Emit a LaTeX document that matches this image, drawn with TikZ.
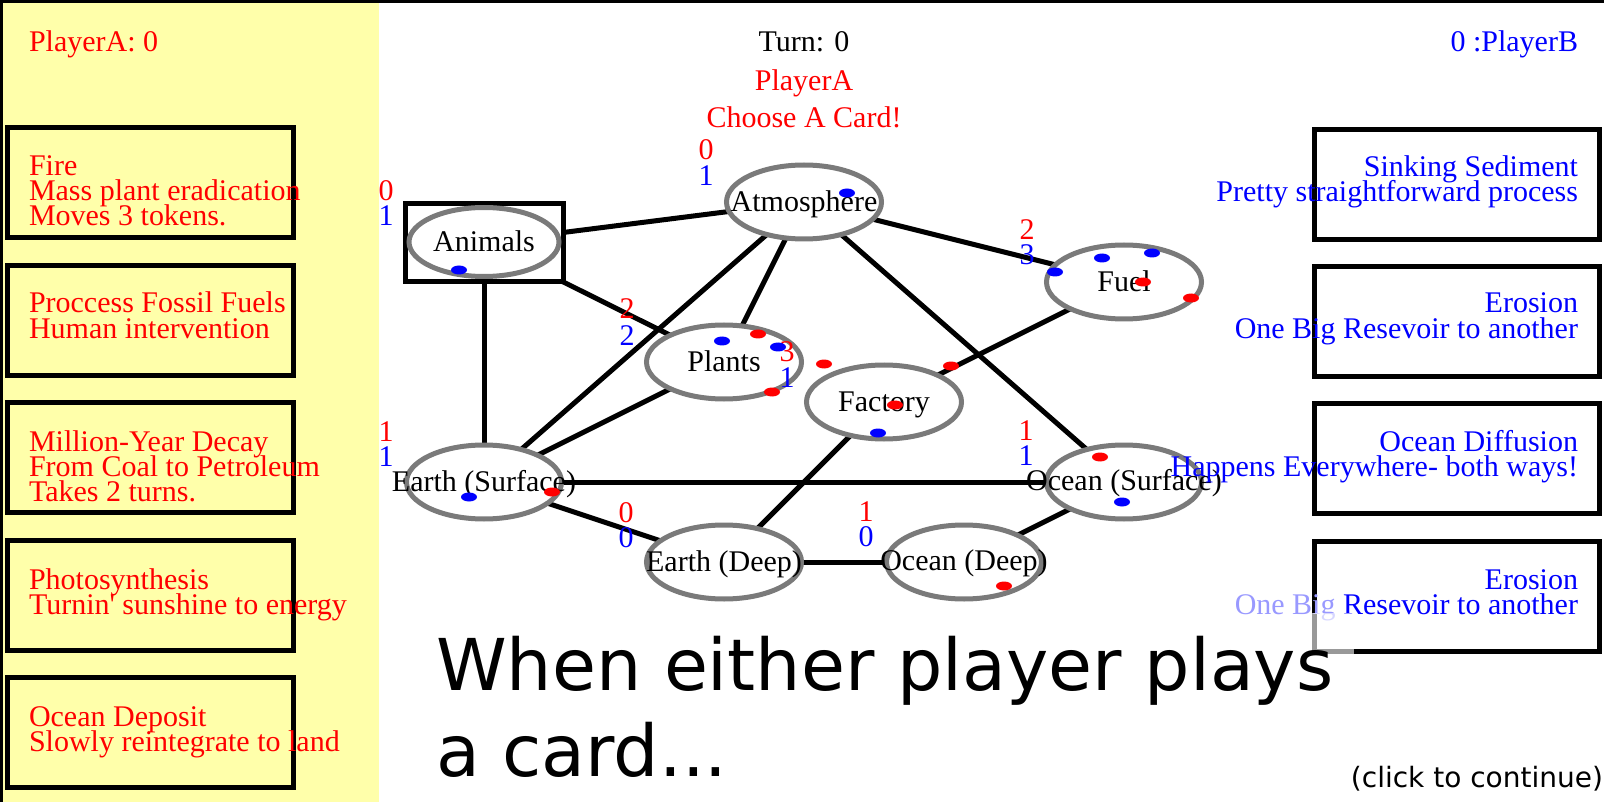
\documentclass[tikz,border=0pt]{standalone}
\usepackage{fontspec}
\setmainfont{Liberation Serif}
\newfontfamily\vsans{DejaVu Sans}
\usetikzlibrary{shapes.geometric}
\pgfdeclarelayer{bg}
\pgfsetlayers{bg,main}
\definecolor{panel}{RGB}{255,255,170}
\definecolor{pred}{RGB}{255,0,0}
\definecolor{pblue}{RGB}{0,0,255}
\definecolor{rim}{RGB}{122,122,122}
\newcommand\linesL[1]{\vtop{\baselineskip=25pt\lineskiplimit=-1000pt\halign{##\hfil\cr#1\crcr}}}
\newcommand\linesR[1]{\vtop{\baselineskip=25pt\lineskiplimit=-1000pt\halign{\hfil##\cr#1\crcr}}}
\begin{document}
\begin{tikzpicture}[x=1pt,y=-1pt,
  every node/.style={inner sep=0pt, outer sep=0pt},
  tx/.style={font=\fontsize{30}{25}\selectfont},
  station/.style={ellipse, draw=rim, line width=5pt, fill=white, minimum width=155pt, minimum height=74pt},
  flow/.style={line width=5pt, black},
  cardbox/.style={draw=black, line width=5pt},
  lcard/.style={cardbox, minimum width=286pt, minimum height=110pt},
  rcard/.style={cardbox, minimum width=285pt, minimum height=110pt},
  ltext/.style={tx, text=pred, anchor=base west},
  rtext/.style={tx, text=pblue, anchor=base east},
  ntext/.style={tx, text=black, anchor=base},
  sr/.style={tx, text=pred, anchor=base},
  sb/.style={tx, text=pblue, anchor=base},
  rdot/.style={fill=pred},
  bdot/.style={fill=pblue}
]
\useasboundingbox (0,0) rectangle (1604,802);

% cards on the left
\node[lcard] (lc1) at (150.5,182.5) {};
\node[lcard] (lc2) at (150.5,320.5) {};
\node[lcard] (lc3) at (150.5,457.5) {};
\node[lcard] (lc4) at (150.5,595.5) {};
\node[lcard] (lc5) at (150.5,732.5) {};
% cards on the right
\node[rcard] (rc1) at (1457,184.5) {};
\node[rcard] (rc2) at (1457,321.5) {};
\node[rcard] (rc3) at (1457,458.5) {};
\node[rcard] (rc4) at (1457,596.5) {};

% graph nodes
\node[draw=black, line width=5pt, fill=white, minimum width=158pt, minimum height=78pt] (abox) at (484,242.5) {};
\node[station, minimum width=150pt, minimum height=69pt] (animals) at (484,242) {};
\node[station] (atmos) at (804,202) {};
\node[station] (fuel) at (1124,282) {};
\node[station] (plants) at (724,362) {};
\node[station] (factory) at (884,402) {};
\node[station] (earths) at (484,482) {};
\node[station] (oceans) at (1124,482) {};
\node[station] (earthd) at (724,562) {};
\node[station] (oceand) at (964,562) {};

\begin{pgfonlayer}{bg}
  \fill[white] (0,0) rectangle (1604,802);
  \fill[panel] (0,0) rectangle (379,802);
  \draw[flow] (abox.center) -- (atmos.center);
  \draw[flow] (abox.center) -- (plants.center);
  \draw[flow] (abox.center) -- (earths.center);
  \draw[flow] (atmos.center) -- (fuel.center);
  \draw[flow] (atmos.center) -- (plants.center);
  \draw[flow] (atmos.center) -- (earths.center);
  \draw[flow] (atmos.center) -- (oceans.center);
  \draw[flow] (plants.center) -- (earths.center);
  \draw[flow] (fuel.center) -- (factory.center);
  \draw[flow] (factory.center) -- (earthd.center);
  \draw[flow] (earths.center) -- (oceans.center);
  \draw[flow] (earths.center) -- (earthd.center);
  \draw[flow] (earthd.center) -- (oceand.center);
  \draw[flow] (oceand.center) -- (oceans.center);
\end{pgfonlayer}

% border lines
\draw[line width=3pt] (0,1.5) -- (1604,1.5);
\draw[line width=3pt] (1.5,0) -- (1.5,802);

% node names
\node[ntext] (tAnimals) at (484,251.5) {Animals};
\node[ntext] (tAtmos) at (804,211.5) {Atmosphere};
\node[ntext] (tFuel) at (1124,291.5) {Fuel};
\node[ntext] (tPlants) at (724,371.5) {Plants};
\node[ntext] (tFactory) at (884,411.5) {Factory};
\node[ntext] (tEarthS) at (484,491.5) {Earth (Surface)};
\node[ntext] (tOceanS) at (1124,490.5) {Ocean (Surface)};
\node[ntext] (tEarthD) at (724,571) {Earth (Deep)};
\node[ntext] (tOceanD) at (964,570.5) {Ocean (Deep)};

% scores
\node[sr] (sAr) at (386,201) {0};   \node[sb] (sAb) at (386,226) {1};
\node[sr] (sTr) at (706,160) {0};   \node[sb] (sTb) at (706,186) {1};
\node[sr] (sPr) at (627,319) {2};   \node[sb] (sPb) at (627,345) {2};
\node[sr] (sFr) at (787,362) {3};   \node[sb] (sFb) at (787,387) {1};
\node[sr] (sUr) at (1027,240) {2};  \node[sb] (sUb) at (1027,265) {3};
\node[sr] (sEr) at (386,441) {1};   \node[sb] (sEb) at (386,466) {1};
\node[sr] (sOr) at (1026,440) {1};  \node[sb] (sOb) at (1026,465) {1};
\node[sr] (sDr) at (626,522) {0};   \node[sb] (sDb) at (626,547) {0};
\node[sr] (sQr) at (866,521) {1};   \node[sb] (sQb) at (866,546) {0};

% tokens
\fill[bdot] (459,270) ellipse [x radius=8pt, y radius=4.5pt];
\fill[bdot] (847,193) ellipse [x radius=8pt, y radius=4.5pt];
\fill[bdot] (722,341) ellipse [x radius=8pt, y radius=4.5pt];
\fill[rdot] (758,334) ellipse [x radius=8pt, y radius=4.5pt];
\fill[bdot] (778,347) ellipse [x radius=8pt, y radius=4.5pt];
\fill[rdot] (772,392) ellipse [x radius=8pt, y radius=4.5pt];
\fill[rdot] (824,364) ellipse [x radius=8pt, y radius=4.5pt];
\fill[rdot] (951,366) ellipse [x radius=8pt, y radius=4.5pt];
\fill[rdot] (895,405) ellipse [x radius=8pt, y radius=4.5pt];
\fill[bdot] (878,433) ellipse [x radius=8pt, y radius=4.5pt];
\fill[bdot] (1055,272) ellipse [x radius=8pt, y radius=4.5pt];
\fill[bdot] (1102,258) ellipse [x radius=8pt, y radius=4.5pt];
\fill[bdot] (1152,253) ellipse [x radius=8pt, y radius=4.5pt];
\fill[rdot] (1143,282) ellipse [x radius=8pt, y radius=4.5pt];
\fill[rdot] (1191,298) ellipse [x radius=8pt, y radius=4.5pt];
\fill[bdot] (469,497) ellipse [x radius=8pt, y radius=4.5pt];
\fill[rdot] (552,492) ellipse [x radius=8pt, y radius=4.5pt];
\fill[rdot] (1100,457) ellipse [x radius=8pt, y radius=4.5pt];
\fill[bdot] (1122,502) ellipse [x radius=8pt, y radius=4.5pt];
\fill[rdot] (1004,586) ellipse [x radius=8pt, y radius=4.5pt];

% header texts
\node[ltext] (scoreA) at (29,52) {PlayerA: 0};
\node[ntext] (turn) at (804,52) {Turn: 0};
\node[sr] (who) at (804,91) {PlayerA};
\node[sr] (choose) at (804,128) {Choose A Card!};
\node[rtext] (scoreB) at (1578,52) {0 :PlayerB};

% card texts, left
\node[ltext] (lt1) at (29,176) {\linesL{Fire\cr Mass plant eradication\cr Moves 3 tokens.}};
\node[ltext] (lt2) at (29,313) {\linesL{Proccess Fossil Fuels\cr Human intervention}};
\node[ltext] (lt3) at (29,451) {\linesL{Million-Year Decay\cr From Coal to Petroleum\cr Takes 2 turns.}};
\node[ltext] (lt4) at (29,589) {\linesL{Photosynthesis\cr Turnin\textquotesingle{} sunshine to energy}};
\node[ltext] (lt5) at (29,726) {\linesL{Ocean Deposit\cr Slowly reintegrate to land}};
% card texts, right
\node[rtext] (rt1) at (1578,177) {\linesR{Sinking Sediment\cr Pretty straightforward process}};
\node[rtext] (rt2) at (1578,313) {\linesR{Erosion\cr One Big Resevoir to another}};
\node[rtext] (rt3) at (1578,451) {\linesR{Ocean Diffusion\cr Happens Everywhere- both ways!}};
\node[rtext] (rt4) at (1578,589) {\linesR{Erosion\cr {\color{pblue!40}One Big }Resevoir to another}};

\fill[white, opacity=0.6] (1309,613) rectangle (1354,656);

% message
\node[anchor=base west, font=\vsans\fontsize{71.5}{86}\selectfont] (msg1) at (436,690) {When either player plays};
\node[anchor=base west, font=\vsans\fontsize{71.5}{86}\selectfont] (msg2) at (436,776) {a card...};
\node[anchor=base east, font=\vsans\fontsize{28}{30}\selectfont] (cont) at (1603,787) {(click to continue)};
\end{tikzpicture}
\end{document}
